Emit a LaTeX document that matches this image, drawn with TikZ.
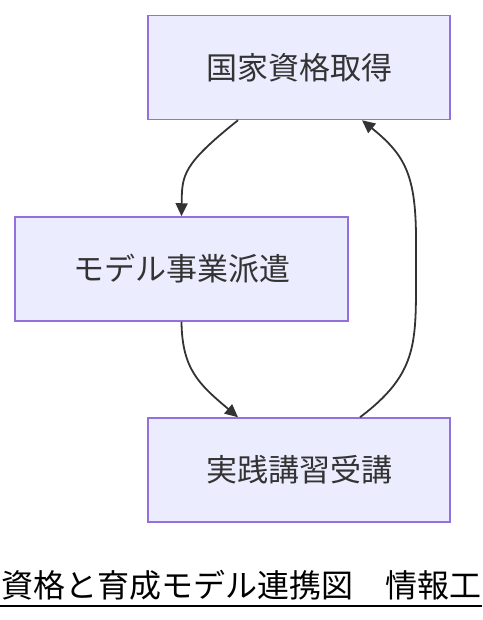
\documentclass[tikz,border=0pt]{standalone}
\usepackage{fontspec}
\newfontfamily\jp{Noto Sans CJK JP}
\usetikzlibrary{arrows.meta}
\definecolor{boxfill}{HTML}{ECECFF}
\definecolor{boxline}{HTML}{9370DB}
\definecolor{edge}{HTML}{333333}
\tikzset{
  box/.style={draw=boxline, fill=boxfill, line width=1.5pt, minimum height=104pt, inner sep=0pt, font=\jp\fontsize{31}{36}\selectfont, text=edge},
  link/.style={draw=edge, line width=1.8pt, -{Triangle[length=13pt,width=12pt]}},
}
\begin{document}
\begin{tikzpicture}[x=1pt,y=-1pt]
\useasboundingbox (0,0) rectangle (482,620);
\clip (0,0) rectangle (482,620);
\node[box, minimum width=302pt] (b1) at (299,67.5) {国家資格取得};
\node[box, minimum width=333pt] (b2) at (181.5,269) {モデル事業派遣};
\node[box, minimum width=302pt] (b3) at (299,470) {実践講習受講};
\draw[link] ([xshift=-61pt]b1.south) .. controls (182,165) and (182,175) .. (b2.north);
\draw[link] (b2.south) .. controls (182,370) and (200,385) .. ([xshift=-61pt]b3.north);
\draw[link] ([xshift=61pt]b3.north) .. controls (416,375) and (416,345) .. (416,280) -- (416,240) .. controls (416,175) and (405,155) .. ([xshift=63pt]b1.south);
\node[anchor=base west, inner sep=0pt, font=\jp\fontsize{32}{36}\selectfont] (title) at (1,597) {資格と育成モデル連携図　情報工};
\coordinate (ul) at (0,606);
\draw[line width=2.2pt] (ul) -- ++(482,0);
\end{tikzpicture}
\end{document}
